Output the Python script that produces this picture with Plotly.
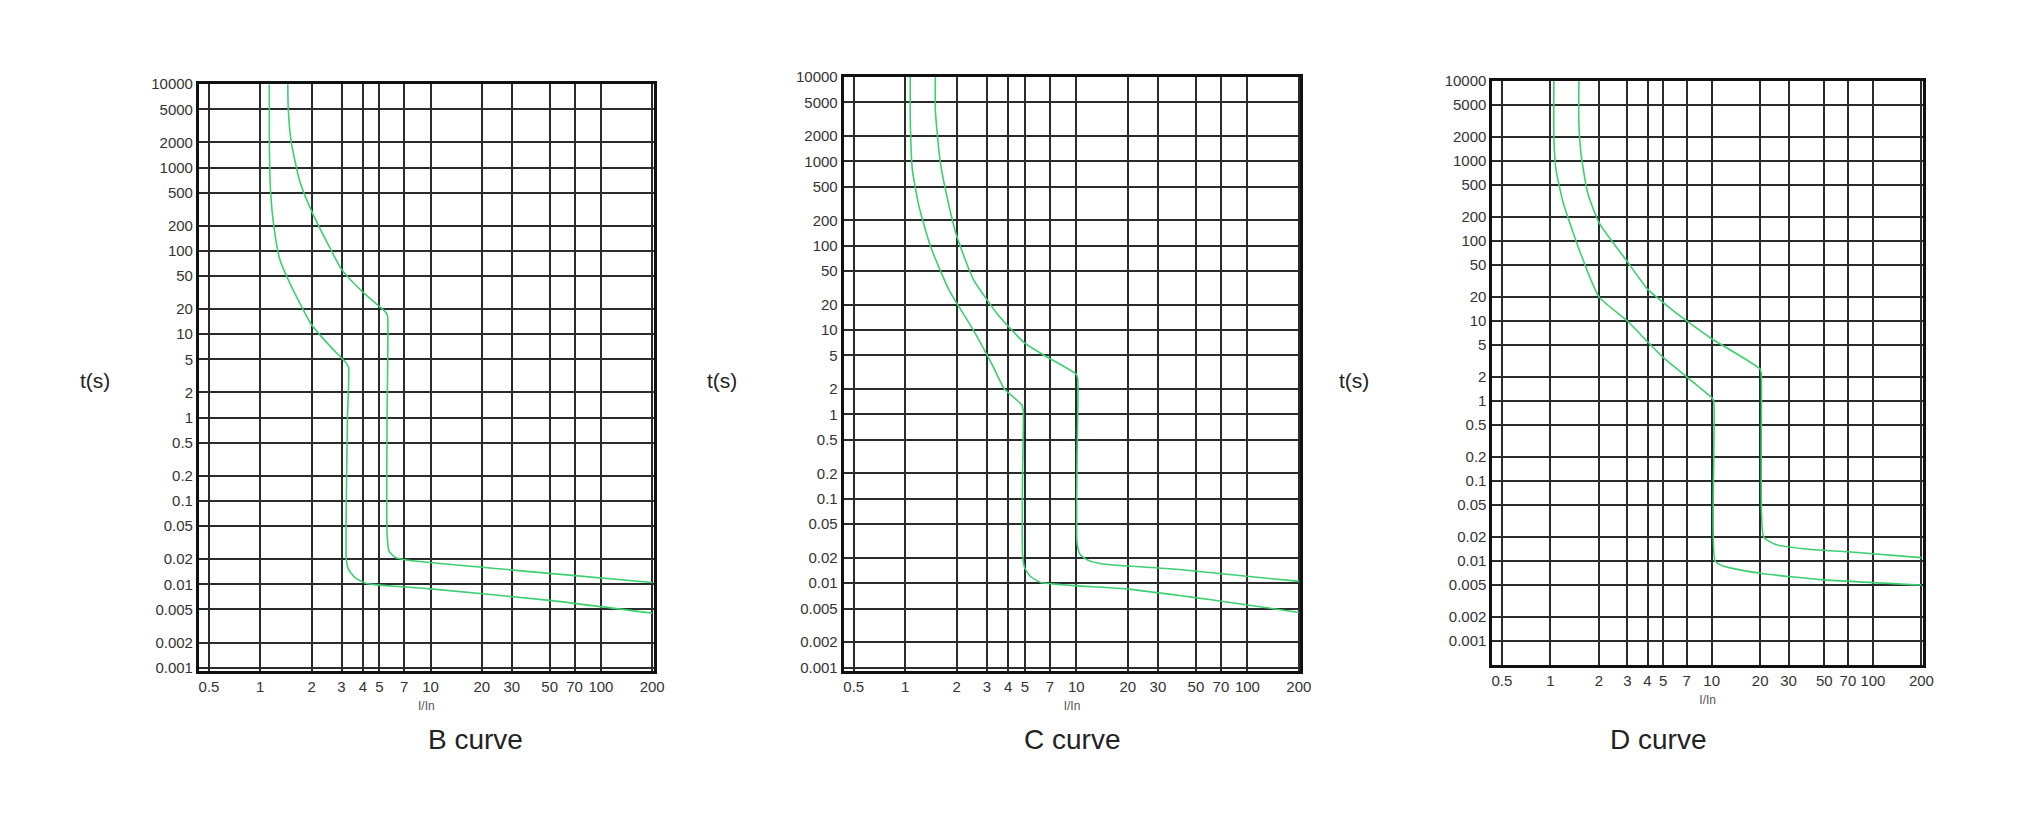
import math
import plotly.graph_objects as go

x_ticks = [0.5, 1, 2, 3, 4, 5, 7, 10, 20, 30, 50, 70, 100, 200]
x_labels = ["0.5", "1", "2", "3", "4", "5", "7", "10", "20", "30", "50", "70", "100", "200"]
y_ticks = [10000, 5000, 2000, 1000, 500, 200, 100, 50, 20, 10, 5, 2, 1,
           0.5, 0.2, 0.1, 0.05, 0.02, 0.01, 0.005, 0.002, 0.001]
y_labels = [str(v) for v in y_ticks]

# B curve
b_low_x = [1.13, 1.13, 1.15, 1.2, 1.3, 1.5, 2.0, 2.6, 3.2, 3.3, 3.25, 3.2, 3.2, 3.3, 3.6, 4.2, 10, 50, 200]
b_low_y = [10000, 2000, 500, 200, 80, 40, 13, 7, 4.5, 4.0, 1.0, 0.1, 0.02, 0.015, 0.012, 0.0102, 0.0088, 0.0064, 0.0045]
b_up_x = [1.45, 1.46, 1.52, 1.7, 2.0, 2.5, 3.0, 4.0, 5.5, 5.6, 5.55, 5.55, 5.7, 6.2, 7.2, 20, 50, 200]
b_up_y = [10000, 5000, 2000, 700, 300, 120, 60, 32, 18, 16, 1.0, 0.04, 0.025, 0.021, 0.0195, 0.016, 0.0135, 0.0105]

# C curve
c_low_x = [1.07, 1.07, 1.1, 1.2, 1.4, 1.8, 2.5, 3.2, 3.8, 4.8, 4.9, 4.85, 4.85, 5.0, 5.4, 6.2, 20, 60, 200]
c_low_y = [10000, 3000, 800, 300, 100, 30, 10, 4, 2, 1.3, 1.1, 0.2, 0.022, 0.015, 0.012, 0.0102, 0.0085, 0.0064, 0.0045]
c_up_x = [1.5, 1.5, 1.6, 1.8, 2.0, 2.5, 3.5, 5.0, 6.5, 10, 10.2, 10.1, 10.1, 10.5, 11.5, 14, 40, 200]
c_up_y = [10000, 4000, 1000, 300, 130, 40, 15, 7, 5, 3, 2.6, 0.3, 0.03, 0.022, 0.019, 0.017, 0.0145, 0.0105]

# D curve
d_low_x = [1.05, 1.05, 1.08, 1.2, 1.5, 2.0, 3.0, 4.0, 5.0, 7.0, 10, 10.3, 10.3, 10.5, 12, 20, 50, 200]
d_low_y = [10000, 2000, 800, 300, 80, 20, 10, 5.5, 3.5, 2.0, 1.1, 1.0, 0.2, 0.01, 0.0085, 0.007, 0.0058, 0.005]
d_up_x = [1.5, 1.5, 1.55, 1.7, 2.0, 3.0, 4.0, 5.0, 7.0, 10, 20, 20.3, 20.3, 21, 25, 40, 70, 200]
d_up_y = [10000, 3000, 1200, 400, 170, 55, 25, 17, 10, 6, 2.5, 2.2, 0.2, 0.02, 0.016, 0.014, 0.013, 0.011]

panels = [
    ("B curve", b_low_x, b_low_y, b_up_x, b_up_y, [0.094, 0.319], [0.182, 0.916], 0.0009),
    ("C curve", c_low_x, c_low_y, c_up_x, c_up_y, [0.413, 0.639], [0.182, 0.925], 0.0009),
    ("D curve", d_low_x, d_low_y, d_up_x, d_up_y, [0.734, 0.947], [0.19, 0.92], 0.0005),
]

green = "#3cd070"
fig = go.Figure()
for i, (name, lx, ly, ux, uy, xd, yd, ymin) in enumerate(panels):
    n = "" if i == 0 else str(i + 1)
    for xs, ys in [(lx, ly), (ux, uy)]:
        fig.add_trace(go.Scatter(x=xs, y=ys, mode="lines",
                                 line=dict(color=green, width=1.6, shape="spline", smoothing=0.5),
                                 xaxis="x" + n, yaxis="y" + n, showlegend=False, hoverinfo="skip"))
    fig.layout["xaxis" + n] = dict(
        type="log", domain=xd, anchor="y" + n, range=[-0.36, 2.31],
        tickvals=x_ticks, ticktext=x_labels, showgrid=True, gridcolor="#2b2b2b", gridwidth=2,
        showline=True, linecolor="#111", linewidth=3, mirror=True, zeroline=False,
        tickfont=dict(family="Arial", size=15, color="#333"),
        title=dict(text="I/In", font=dict(family="Arial", size=12, color="#555"), standoff=8))
    fig.layout["yaxis" + n] = dict(
        type="log", domain=yd, anchor="x" + n, range=[math.log10(ymin), 4.0],
        tickvals=y_ticks, ticktext=y_labels, showgrid=True, gridcolor="#2b2b2b", gridwidth=2,
        showline=True, linecolor="#111", linewidth=3, mirror=True, zeroline=False,
        tickfont=dict(family="Arial", size=15, color="#333"))
    xc = (xd[0] + xd[1]) / 2
    fig.add_annotation(text=name, x=xc, y=0.075, xref="paper", yref="paper", showarrow=False,
                       font=dict(family="Arial", size=28, color="#222"))
    fig.add_annotation(text="t(s)", x=xd[0] - 0.06, y=0.545, xref="paper", yref="paper",
                       showarrow=False, font=dict(family="Arial", size=21, color="#222"))

fig.update_layout(width=2033, height=813, margin=dict(l=0, r=0, t=0, b=0),
                  paper_bgcolor="white", plot_bgcolor="white")
fig.write_html("out.html")
